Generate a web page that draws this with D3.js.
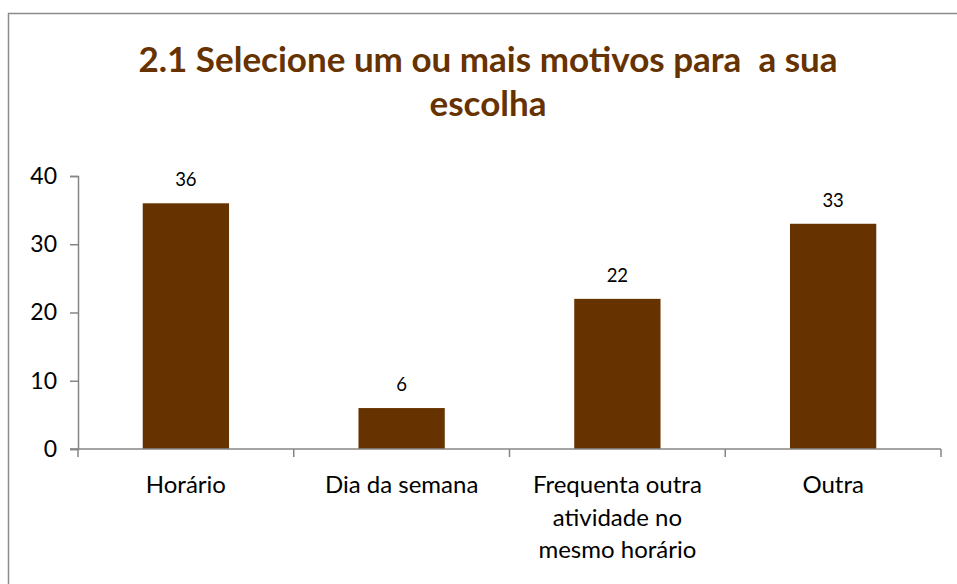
<!DOCTYPE html>
<html lang="pt">
<head>
<meta charset="UTF-8">
<script src="https://d3js.org/d3.v7.min.js"></script>
<style>
  html, body { margin:0; padding:0; background:#fff; overflow:hidden; }
  svg { display:block; font-family:"Lato","Open Sans",sans-serif; }
  .axis path, .axis line { stroke:#868686; stroke-width:1.5; }
  .axis text { fill:#000; }
</style>
</head>
<body>
<div id="chart"></div>
<script>
const categories=["Horário","Dia da semana","Frequenta outra atividade no mesmo horário","Outra"];
const catLines=[["Horário"],["Dia da semana"],["Frequenta outra","atividade no","mesmo horário"],["Outra"]];
const values=[36,6,22,33];
const yTicks=[0,10,20,30,40];
const titleLines=["2.1 Selecione um ou mais motivos para  a sua","escolha"];

const W=957,H=584;
const svg=d3.select("#chart").append("svg").attr("width",W).attr("height",H);

// chart frame
svg.append("rect").attr("x",8.5).attr("y",13.5).attr("width",W+20).attr("height",H+20)
  .attr("fill","#fff").attr("stroke","#8c8c8c").attr("stroke-width",1.5);

const x=d3.scaleBand().domain(categories).range([78,941]).paddingInner(0.6).paddingOuter(0.3);
const y=d3.scaleLinear().domain([0,40]).range([449,176]);

// title
svg.append("text").attr("x",488).attr("text-anchor","middle")
  .attr("fill","#663300").attr("font-weight","bold").attr("font-size",35)
  .selectAll("tspan").data(titleLines).join("tspan")
  .attr("x",488).attr("y",(d,i)=>72+i*44).style("white-space","pre").text(d=>d);

// bars
svg.selectAll(".bar").data(values).join("rect").attr("class","bar")
  .attr("x",(d,i)=>x(categories[i])).attr("width",x.bandwidth())
  .attr("y",d=>y(d)).attr("height",d=>y(0)-y(d)).attr("fill","#663300");

// value labels
svg.selectAll(".lbl").data(values).join("text").attr("class","lbl")
  .attr("x",(d,i)=>x(categories[i])+x.bandwidth()/2).attr("y",d=>y(d)-17)
  .attr("text-anchor","middle").attr("font-size",18.5).attr("fill","#000").text(d=>d);

// y axis
const yAxis=svg.append("g").attr("class","axis").attr("transform","translate(78,0)")
  .call(d3.axisLeft(y).tickValues(yTicks).tickSize(8).tickPadding(13));
yAxis.selectAll("text").attr("font-size",23).attr("font-family","Lato,sans-serif");

// x axis with ticks at band boundaries
const xg=svg.append("g").attr("class","axis");
xg.append("line").attr("x1",70).attr("x2",941).attr("y1",y(0)).attr("y2",y(0));
const edges=categories.map(c=>x(c)-x.step()*x.paddingInner()/2).concat([941]);
xg.selectAll(".xt").data(edges).join("line").attr("class","xt")
  .attr("x1",d=>d).attr("x2",d=>d).attr("y1",y(0)).attr("y2",y(0)+8);

// category labels
svg.selectAll(".cat").data(catLines).join("text").attr("class","cat")
  .attr("text-anchor","middle").attr("font-size",24).attr("fill","#000")
  .each(function(lines,i){
    d3.select(this).selectAll("tspan").data(lines).join("tspan")
      .attr("x",x(categories[i])+x.bandwidth()/2)
      .attr("y",(d,j)=>493+j*32.5).text(d=>d);
  });
</script>
</body>
</html>
